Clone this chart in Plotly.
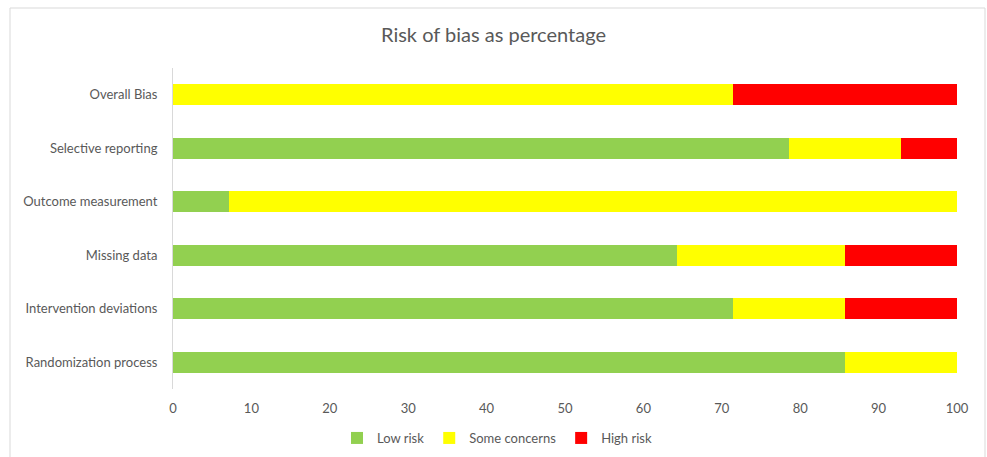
import plotly.graph_objects as go

categories = ["Randomization process", "Intervention deviations", "Missing data",
              "Outcome measurement", "Selective reporting", "Overall Bias"]
low_risk = [85.7, 71.4, 64.3, 7.1, 78.6, 0.0]
some_concerns = [14.3, 14.3, 21.4, 92.9, 14.3, 71.4]
high_risk = [0.0, 14.3, 14.3, 0.0, 7.1, 28.6]
x_ticks = [0, 10, 20, 30, 40, 50, 60, 70, 80, 90, 100]

FONT = "Lato, 'Open Sans', sans-serif"
TXT = "#595959"

fig = go.Figure()
for name, vals, col in [("Low risk", low_risk, "#92D050"),
                        ("Some concerns", some_concerns, "#FFFF00"),
                        ("High risk", high_risk, "#FF0000")]:
    fig.add_trace(go.Bar(y=categories, x=vals, name=name, orientation="h",
                         marker=dict(color=col, line=dict(width=0)), width=0.4))

W, H = 987, 457
L, R, T, B = 173, 30, 68, 68
pw, ph = W - L - R, H - T - B

def px_x(p):
    return (p - L) / pw

def px_y(p):
    return (H - B - p) / ph

fig.update_layout(
    width=W, height=H, autosize=False,
    barmode="stack",
    margin=dict(l=L, r=R, t=T, b=B),
    paper_bgcolor="white", plot_bgcolor="white",
    font=dict(family=FONT, color=TXT, size=13),
    title=dict(text="Risk of bias as percentage", x=0.5, xanchor="center",
               y=1 - 35 / H, yanchor="middle",
               font=dict(size=20, color=TXT, family=FONT)),
    xaxis=dict(range=[0, 100], tickvals=x_ticks, showgrid=False, zeroline=False,
               showline=False, ticks="", ticklabelstandoff=10, automargin=False,
               tickfont=dict(size=13, color=TXT)),
    yaxis=dict(showgrid=False, zeroline=False, showline=True, linecolor="#D9D9D9",
               linewidth=1, ticks="", ticklabelstandoff=12, automargin=False,
               tickfont=dict(size=13, color=TXT)),
    legend=dict(orientation="h", xref="paper", x=px_x(497), xanchor="center",
                yref="container", y=1 - 438 / H, yanchor="middle",
                font=dict(size=13, color=TXT), itemwidth=30, traceorder="normal"),
    bargap=0.6,
    shapes=[dict(type="rect", xref="paper", yref="paper",
                 x0=px_x(10), x1=px_x(985), y0=px_y(460), y1=px_y(8),
                 line=dict(color="#D9D9D9", width=1), fillcolor="rgba(0,0,0,0)",
                 layer="below")],
)

fig.write_html("out.html",
               config={"responsive": False, "displayModeBar": False},
               post_script="document.body.style.margin='0';document.body.style.overflow='hidden';")
